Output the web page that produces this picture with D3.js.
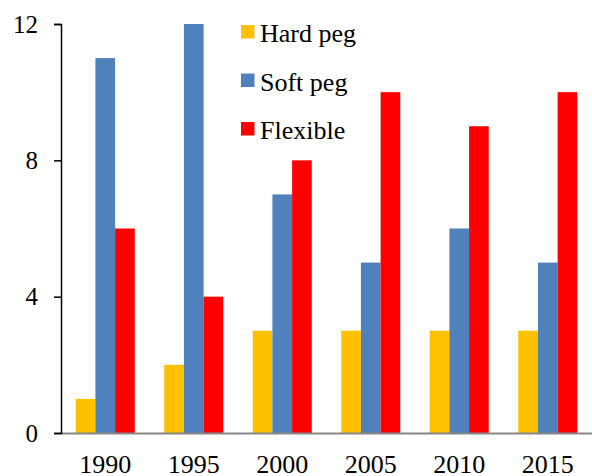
<!DOCTYPE html>
<html lang="en">
<head>
<meta charset="utf-8">
<title>Exchange rate regimes</title>
<style>
    body { margin: 0; background: white; }
    svg text { font-family: "Liberation Serif", "Times New Roman", Times, serif; fill: #000; }
</style>
</head>
<body>
<script src="https://d3js.org/d3.v7.min.js"></script>
<svg width="592" height="476"></svg>
<script>
// data
var years = ["1990", "1995", "2000", "2005", "2010", "2015"];
var seriesNames = ["Hard peg", "Soft peg", "Flexible"];
var hardPeg = [1, 2, 3, 3, 3, 3];
var softPeg = [11, 12, 7, 5, 6, 5];
var flexible = [6, 4, 8, 10, 9, 10];
var yTicks = [0, 4, 8, 12];
var colors = ["#FFC000", "#4F81BD", "#FF0000"];

var serif = "Liberation Serif, Times New Roman, Times, serif";

var svg = d3.select("svg"),
    margin = {top: 24, right: 0, bottom: 43, left: 61},
    width = +svg.attr("width") - margin.left - margin.right,
    height = +svg.attr("height") - margin.top - margin.bottom;

var g = svg.append("g")
    .attr("transform", "translate(" + margin.left + "," + margin.top + ")");

var x0 = d3.scaleBand().domain(years).range([0, width]).paddingInner(0.333).paddingOuter(0.1665);
var x1 = d3.scaleBand().domain(seriesNames).range([0, x0.bandwidth()]);
var y = d3.scaleLinear().domain([0, 12]).range([height, 0]);

var rows = years.map(function(yr, i) {
    return {year: yr, values: [hardPeg[i], softPeg[i], flexible[i]]};
});

// bars
g.selectAll(".group")
    .data(rows)
    .enter().append("g")
    .attr("transform", function(d) { return "translate(" + x0(d.year) + ",0)"; })
    .selectAll("rect")
    .data(function(d) { return d.values.map(function(v, k) { return {key: seriesNames[k], value: v, c: colors[k]}; }); })
    .enter().append("rect")
    .attr("x", function(d) { return x1(d.key); })
    .attr("width", x1.bandwidth())
    .attr("y", function(d) { return y(d.value); })
    .attr("height", function(d) { return height - y(d.value); })
    .attr("fill", function(d) { return d.c; });

// x axis (gray baseline)
g.append("line")
    .attr("x1", 0).attr("x2", width)
    .attr("y1", height + 0.5).attr("y2", height + 0.5)
    .attr("stroke", "#868686").attr("stroke-width", 2);

g.selectAll(".xlabel")
    .data(years)
    .enter().append("text")
    .attr("x", function(d) { return x0(d) + x0.bandwidth() / 2; })
    .attr("y", height + 40)
    .attr("text-anchor", "middle")
    .attr("font-family", serif)
    .attr("font-size", "26px")
    .text(function(d) { return d; });

// y axis
var yAxis = g.append("g")
    .attr("font-family", serif)
    .call(d3.axisLeft(y).tickValues(yTicks).tickSize(7).tickPadding(16));
yAxis.attr("font-family", serif);
yAxis.select(".domain").attr("stroke", "#000").attr("stroke-width", 1.5);
yAxis.selectAll(".tick line").attr("stroke", "#000").attr("stroke-width", 1.5);
yAxis.selectAll(".tick text")
    .attr("font-size", "25px")
    .attr("font-family", serif)
    .attr("fill", "#000");

// legend
var legend = svg.append("g").attr("transform", "translate(241,25)");
var items = legend.selectAll(".item")
    .data(seriesNames)
    .enter().append("g")
    .attr("transform", function(d, i) { return "translate(0," + i * 48.5 + ")"; });
items.append("rect")
    .attr("width", 13.5).attr("height", 13.5)
    .attr("fill", function(d, i) { return colors[i]; });
items.append("text")
    .attr("x", 19).attr("y", 17)
    .attr("font-family", serif)
    .attr("font-size", "26px")
    .text(function(d) { return d; });
</script>
</body>
</html>
